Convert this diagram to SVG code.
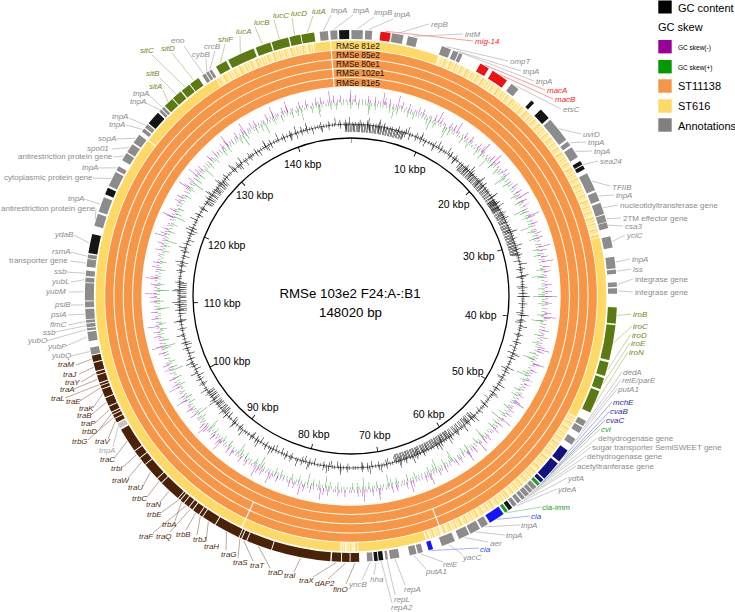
<svg xmlns="http://www.w3.org/2000/svg" width="735" height="612" viewBox="0 0 735 612">
<style>
text{font-family:"Liberation Sans",Arial,sans-serif}
.t{font-size:8px;font-style:italic}
.p{font-size:8px}
.k{font-size:10.5px;fill:#000}
.cg{fill:#8c8c8c}.co{fill:#6f8c1d}.cb{fill:#552e12}.cr{fill:#ff1a1a}.cn{fill:#2b2b8f}.cu{fill:#2244ff}.cv{fill:#22a022}.cl{fill:#a8a8a8}
.f{fill:none;stroke-width:9}
.fg{stroke:#8c8c8c}.fk{stroke:#151515}.fo{stroke:#5c7a12}.fb{stroke:#4a2208}.fr{stroke:#ee1111}.fn{stroke:#121280}.fu{stroke:#1414ff}.fv{stroke:#22a022}.fl{stroke:#c4c4c4}
.ys{fill:none;stroke:#ffd966;stroke-width:8.5}
.wg{stroke:#fff;stroke-width:1.1}
#conn line{stroke-width:.6}
.lg{stroke:#a6a6a6}.lo{stroke:#a3b36a}.lb{stroke:#8b6b55}.lr{stroke:#ff5555}.ln{stroke:#6b6bb5}.lu{stroke:#6680ff}.lv{stroke:#6cc06c}
.lt{font-size:11px;fill:#000}
.ls{font-size:6.5px;fill:#000}
.rl{font-size:8.3px;fill:#111}
</style>
<defs>
<path id="F" d="M351,34.5A261.5,261.5 0 1 1 351,557.5A261.5,261.5 0 1 1 351,34.5" pathLength="360"/>
<path id="Y" d="M351,45A251,251 0 1 1 351,547A251,251 0 1 1 351,45" pathLength="360"/>
<path id="a20" d="M321.83,130.55A168,168 0 0 1 380.17,130.55"/>
<path id="a10" d="M336.36,128.64A168,168 0 0 1 365.64,128.64"/>
</defs>
<rect width="735" height="612" fill="#fff"/>

<g id="rings" fill="none">
<circle cx="351" cy="296" r="241.7" stroke="#f79646" stroke-width="8.3"/>
<circle cx="351" cy="296" r="232.4" stroke="#f79646" stroke-width="8.3"/>
<circle cx="351" cy="296" r="223.1" stroke="#f79646" stroke-width="8.3"/>
<circle cx="351" cy="296" r="213.8" stroke="#f79646" stroke-width="8.3"/>
<circle cx="351" cy="296" r="251" stroke="#fff1c2" stroke-width="8.5"/>
<circle cx="351" cy="296" r="251" stroke="#ffd966" stroke-width="8.5" stroke-dasharray="1.3 1.5 0.8 2.2 1.6 0.9 0.7 2.8 2.1 1.2 0.9 1.9"/>
<use href="#Y" class="ys" stroke-dasharray="8 360" stroke-dashoffset="-352"/>
<use href="#Y" class="ys" stroke-dasharray="20 360" stroke-dashoffset="0"/>
<use href="#Y" class="ys" stroke-dasharray="41 360" stroke-dashoffset="-77"/>
<use href="#Y" class="ys" stroke-dasharray="15.3 360" stroke-dashoffset="-163"/>
<use href="#Y" class="ys" stroke-dasharray="145.5 360" stroke-dashoffset="-182.5"/>
<line class="wg" x1="351" y1="40" x2="351" y2="87" transform="rotate(355.4 351 296)"/>
<line class="wg" x1="351" y1="40" x2="351" y2="50" transform="rotate(20.3 351 296)"/>
<line class="wg" x1="351" y1="40" x2="351" y2="68" transform="rotate(159 351 296)"/>
<line class="wg" x1="351" y1="40" x2="351" y2="68" transform="rotate(205.3 351 296)"/>
<line class="wg" x1="351" y1="40" x2="351" y2="50" transform="rotate(307.5 351 296)"/>
<line class="wg" x1="351" y1="40" x2="351" y2="50" stroke-width="1.6" transform="rotate(179.3 351 296)"/>
<line class="wg" x1="351" y1="40" x2="351" y2="50" stroke-width="1.6" transform="rotate(181.3 351 296)"/>
<line class="wg" x1="351" y1="40" x2="351" y2="50" transform="rotate(162.8 351 296)"/>
<text class="rl" x="336" y="48.5">RMSe 81e2</text>
<text class="rl" x="336" y="57.8">RMSe 85e2</text>
<text class="rl" x="336" y="67.1">RMSe 80e1</text>
<text class="rl" x="336" y="76.4">RMSe 102e1</text>
<text class="rl" x="336" y="85.7">RMSe 81e5</text>
</g>

<g id="gcskew" fill="none" stroke-opacity="0.85">
<circle cx="351" cy="296" r="195.5" stroke="#a326b0" stroke-width="3" stroke-dasharray="0.5 2.2 0.5 3.1 0.5 1.4 0.5 4.0 0.5 2.6"/>
<circle cx="351" cy="296" r="197.5" stroke="#a326b0" stroke-width="7" stroke-dasharray="0.5 6.5 0.5 9.8 0.5 4.1 0.5 12.7"/>
<circle cx="351" cy="296" r="200" stroke="#a326b0" stroke-width="12" stroke-dasharray="0.5 21 0.5 33 0.5 15 0.5 44"/>
<circle cx="351" cy="296" r="192.5" stroke="#2ca02c" stroke-width="3" stroke-dasharray="0.5 2.6 0.5 1.7 0.5 3.5 0.5 2.1 0.5 2.9"/>
<circle cx="351" cy="296" r="190.5" stroke="#2ca02c" stroke-width="7" stroke-dasharray="0.5 7.3 0.5 10.6 0.5 5.2 0.5 13.9"/>
<circle cx="351" cy="296" r="188" stroke="#2ca02c" stroke-width="12" stroke-dasharray="0.5 24 0.5 37 0.5 17 0.5 49"/>
</g>

<g id="gccontent" fill="none" stroke="#111">
<circle cx="351" cy="296" r="172" stroke-width="0.6"/>
<circle cx="351" cy="296" r="172" stroke-width="4" stroke-dasharray="0.5 2.3 0.5 1.6 0.5 3.4 0.5 2.0 0.5 2.8"/>
<circle cx="351" cy="296" r="172" stroke-width="9" stroke-dasharray="0.5 7 0.5 11 0.5 5 0.5 14"/>
<circle cx="351" cy="296" r="169" stroke-width="6" stroke-dasharray="0.5 16 0.5 9 0.5 24 0.5 6"/>
<circle cx="351" cy="296" r="175.5" stroke-width="7" stroke-dasharray="0.5 19 0.5 11 0.5 29 0.5 14"/>
<use href="#a20" transform="rotate(8 351 296)" stroke-width="8" stroke-dasharray="0.5 0.6 0.5 1.0 0.5 0.5 0.5 1.3"/>
<use href="#a20" transform="rotate(50 351 296)" stroke-width="8" stroke-dasharray="0.5 0.6 0.5 1.0 0.5 0.5 0.5 1.3"/>
<use href="#a20" transform="rotate(66 351 296)" stroke-width="8" stroke-dasharray="0.5 0.6 0.5 1.0 0.5 0.5 0.5 1.3"/>
<use href="#a20" transform="rotate(155 351 296)" stroke-width="8" stroke-dasharray="0.5 0.6 0.5 1.0 0.5 0.5 0.5 1.3"/>
<use href="#a10" transform="rotate(140 351 296)" stroke-width="7" stroke-dasharray="0.5 1.2 0.5 2"/>
<use href="#a10" transform="rotate(270 351 296)" stroke-width="7" stroke-dasharray="0.5 1.2 0.5 2"/>
<use href="#a10" transform="rotate(308 351 296)" stroke-width="7" stroke-dasharray="0.5 1.2 0.5 2"/>
<use href="#a10" transform="rotate(232 351 296)" stroke-width="7" stroke-dasharray="0.5 1.2 0.5 2"/>
</g>

<g id="axis" fill="none" stroke="#000">
<circle cx="351" cy="296" r="158" stroke-width="1.3"/>
<path d="M351,140.5A155.5,155.5 0 1 1 351,451.5A155.5,155.5 0 1 1 351,140.5" pathLength="148.02" stroke-width="5" stroke-dasharray="0.12 9.88" stroke-dashoffset="0.06"/>
</g>
<g id="scale">
<text class="k" x="394" y="173">10 kbp</text>
<text class="k" x="438" y="208">20 kbp</text>
<text class="k" x="463" y="260">30 kbp</text>
<text class="k" x="465" y="319">40 kbp</text>
<text class="k" x="452" y="375">50 kbp</text>
<text class="k" x="413" y="418">60 kbp</text>
<text class="k" x="359" y="439">70 kbp</text>
<text class="k" x="298" y="438">80 kbp</text>
<text class="k" x="247" y="411">90 kbp</text>
<text class="k" x="213" y="365">100 kbp</text>
<text class="k" x="204" y="307">110 kbp</text>
<text class="k" x="208" y="249">120 kbp</text>
<text class="k" x="236" y="199">130 kbp</text>
<text class="k" x="284" y="168">140 kbp</text>
</g>
<g id="title" text-anchor="middle" font-size="13.3">
<text x="350" y="298">RMSe 103e2 F24:A-:B1</text>
<text x="350.5" y="317">148020 bp</text>
</g>

<g id="conn">
<line class="lo" x1="313" y1="16" x2="307.4" y2="32.6"/>
<line class="lo" x1="292" y1="18" x2="294.6" y2="35"/>
<line class="lo" x1="274" y1="20" x2="279.4" y2="38.8"/>
<line class="lo" x1="255" y1="27" x2="262.3" y2="44.2"/>
<line class="lo" x1="240" y1="36" x2="240.3" y2="53"/>
<line class="lo" x1="225" y1="44" x2="220.5" y2="63"/>
<line class="lg" x1="215" y1="51" x2="209.9" y2="69.3"/>
<line class="lg" x1="206" y1="59" x2="206.8" y2="71.3"/>
<line class="lg" x1="184" y1="46" x2="203.2" y2="73.6"/>
<line class="lo" x1="172" y1="53" x2="193.7" y2="80.3"/>
<line class="lo" x1="152" y1="55" x2="185" y2="86.9"/>
<line class="lo" x1="160" y1="78" x2="176.2" y2="94.2"/>
<line class="lo" x1="163" y1="90" x2="167.9" y2="101.7"/>
<line class="lg" x1="149" y1="95" x2="162.2" y2="107.2"/>
<line class="lg" x1="146" y1="103" x2="159.6" y2="109.8"/>
<line class="lg" x1="129" y1="118" x2="145.7" y2="125.3"/>
<line class="lg" x1="126" y1="125" x2="142.3" y2="129.4"/>
<line class="lg" x1="116" y1="139" x2="135.5" y2="138.3"/>
<line class="lg" x1="112" y1="149" x2="129.1" y2="147.5"/>
<line class="lg" x1="113" y1="157" x2="123.6" y2="156.1"/>
<line class="lg" x1="98" y1="168" x2="116.8" y2="167.8"/>
<line class="lg" x1="93" y1="178" x2="111.2" y2="178.5"/>
<line class="lg" x1="84" y1="199" x2="100.3" y2="204.2"/>
<line class="lg" x1="96" y1="209" x2="95.1" y2="219.7"/>
<line class="lg" x1="74" y1="235" x2="89.3" y2="243.2"/>
<line class="lg" x1="70" y1="252" x2="87" y2="256.1"/>
<line class="lg" x1="70" y1="261" x2="86.1" y2="263"/>
<line class="lg" x1="66" y1="272" x2="85" y2="273.2"/>
<line class="lg" x1="71" y1="282" x2="84.5" y2="279.7"/>
<line class="lg" x1="69" y1="292" x2="84" y2="291.8"/>
<line class="lg" x1="71" y1="305" x2="84.1" y2="304.9"/>
<line class="lg" x1="68" y1="315" x2="84.6" y2="314.2"/>
<line class="lg" x1="68" y1="325" x2="85.2" y2="321.6"/>
<line class="lg" x1="55" y1="332" x2="85.7" y2="325.8"/>
<line class="lg" x1="46" y1="341" x2="86.1" y2="329.7"/>
<line class="lg" x1="66" y1="346" x2="87.1" y2="336.9"/>
<line class="lg" x1="71" y1="356" x2="89.8" y2="351.5"/>
<line class="lb" x1="76" y1="365" x2="91.6" y2="359.2"/>
<line class="lb" x1="79" y1="374" x2="93.7" y2="367.3"/>
<line class="lb" x1="81" y1="382" x2="95.5" y2="373.6"/>
<line class="lb" x1="74" y1="389" x2="97.3" y2="379.4"/>
<line class="lb" x1="65" y1="398" x2="99.2" y2="384.7"/>
<line class="lb" x1="80" y1="401" x2="100.3" y2="387.8"/>
<line class="lb" x1="93" y1="408" x2="102.6" y2="393.9"/>
<line class="lb" x1="91" y1="415" x2="106.1" y2="402.5"/>
<line class="lb" x1="96" y1="422" x2="109.4" y2="409.7"/>
<line class="lb" x1="98" y1="431" x2="111.4" y2="413.9"/>
<line class="lb" x1="88" y1="440" x2="113.3" y2="417.6"/>
<line class="lb" x1="108" y1="439" x2="115.3" y2="421.4"/>
<line class="lg" x1="113" y1="447" x2="118.2" y2="426.7"/>
<line class="lb" x1="115" y1="457" x2="127.1" y2="441.4"/>
<line class="lb" x1="123" y1="467" x2="136.4" y2="454.8"/>
<line class="lb" x1="128" y1="478" x2="141.8" y2="461.8"/>
<line class="lb" x1="143" y1="486" x2="150.4" y2="472.2"/>
<line class="lb" x1="147" y1="497" x2="159" y2="481.5"/>
<line class="lb" x1="160" y1="502" x2="168.9" y2="491.3"/>
<line class="lb" x1="162" y1="512" x2="178.7" y2="499.9"/>
<line class="lb" x1="175" y1="521" x2="181.5" y2="502.3"/>
<line class="lb" x1="153" y1="533" x2="185.9" y2="505.8"/>
<line class="lb" x1="170" y1="532" x2="190.3" y2="509.2"/>
<line class="lb" x1="186" y1="530" x2="195.6" y2="513.1"/>
<line class="lb" x1="197" y1="535" x2="200.3" y2="516.4"/>
<line class="lb" x1="206" y1="542" x2="208.3" y2="521.7"/>
<line class="lb" x1="226" y1="550" x2="226.5" y2="532.2"/>
<line class="lb" x1="238" y1="558" x2="239.9" y2="538.8"/>
<line class="lb" x1="253" y1="561" x2="243.7" y2="540.5"/>
<line class="lb" x1="270" y1="568" x2="258.6" y2="546.5"/>
<line class="lb" x1="294" y1="572" x2="300.5" y2="558.2"/>
<line class="lb" x1="313" y1="577" x2="336.1" y2="562.6"/>
<line class="lb" x1="328" y1="579" x2="345.6" y2="563"/>
<line class="lb" x1="346" y1="584" x2="355" y2="563"/>
<line class="lg" x1="362" y1="580" x2="370.1" y2="562.3"/>
<line class="lg" x1="374" y1="575" x2="376.1" y2="561.8"/>
<line class="lg" x1="405" y1="585" x2="395.1" y2="559.3"/>
<line class="lg" x1="395" y1="595" x2="387.2" y2="560.5"/>
<line class="lg" x1="392" y1="603" x2="381.2" y2="561.3"/>
<line class="lg" x1="426" y1="569" x2="413.8" y2="555.5"/>
<line class="lg" x1="443" y1="562" x2="420.6" y2="553.8"/>
<line class="lg" x1="463" y1="555" x2="448.9" y2="544.4"/>
<line class="lu" x1="479" y1="548" x2="431.3" y2="550.6"/>
<line class="lg" x1="488" y1="542" x2="464.7" y2="537.6"/>
<line class="lg" x1="505" y1="535" x2="475.7" y2="532"/>
<line class="lg" x1="520" y1="525" x2="485.3" y2="526.8"/>
<line class="lu" x1="530" y1="516" x2="497.4" y2="519.3"/>
<line class="lv" x1="541" y1="507" x2="507" y2="512.7"/>
<line class="lg" x1="557" y1="489" x2="515.7" y2="506.1"/>
<line class="lg" x1="567" y1="478" x2="519.9" y2="502.8"/>
<line class="lg" x1="576" y1="466" x2="524" y2="499.3"/>
<line class="lg" x1="586" y1="456" x2="527.9" y2="496"/>
<line class="lg" x1="591" y1="447" x2="531.7" y2="492.5"/>
<line class="lg" x1="597" y1="438" x2="535.5" y2="489"/>
<line class="lv" x1="600" y1="429" x2="539.3" y2="485.3"/>
<line class="ln" x1="605" y1="420" x2="542.6" y2="482"/>
<line class="ln" x1="609" y1="412" x2="551" y2="472.9"/>
<line class="ln" x1="612" y1="402" x2="564.2" y2="456.7"/>
<line class="lg" x1="617" y1="389" x2="574.4" y2="442.2"/>
<line class="lg" x1="621" y1="380" x2="581.5" y2="430.7"/>
<line class="lg" x1="622" y1="372" x2="585.4" y2="423.8"/>
<line class="lo" x1="628" y1="352" x2="595.9" y2="402.5"/>
<line class="lo" x1="630" y1="343" x2="603.2" y2="383.8"/>
<line class="lo" x1="631" y1="334" x2="607.7" y2="369.6"/>
<line class="lo" x1="632" y1="326" x2="613.9" y2="342.8"/>
<line class="lo" x1="631" y1="314" x2="617.3" y2="315.5"/>
<line class="lg" x1="633" y1="292" x2="618" y2="290.9"/>
<line class="lg" x1="633" y1="279" x2="617.7" y2="284.4"/>
<line class="lg" x1="631" y1="269" x2="616.9" y2="271.3"/>
<line class="lg" x1="630" y1="259" x2="615.8" y2="262.1"/>
<line class="lg" x1="625" y1="235" x2="612.4" y2="241.4"/>
<line class="lg" x1="623" y1="226" x2="608.4" y2="225.1"/>
<line class="lg" x1="621" y1="218" x2="606.6" y2="218.8"/>
<line class="lg" x1="618" y1="205" x2="603" y2="207.8"/>
<line class="lg" x1="614" y1="195" x2="598.6" y2="196"/>
<line class="lg" x1="610" y1="186" x2="592" y2="181.1"/>
<line class="lg" x1="598" y1="161" x2="583.4" y2="164.5"/>
<line class="lg" x1="592" y1="151" x2="575.4" y2="151.4"/>
<line class="lg" x1="586" y1="142" x2="569.7" y2="142.8"/>
<line class="lg" x1="581" y1="134" x2="559.1" y2="128.7"/>
<line class="lg" x1="561" y1="109" x2="515.4" y2="85.6"/>
<line class="lr" x1="553" y1="99" x2="500.7" y2="74.9"/>
<line class="lr" x1="545" y1="90" x2="484.9" y2="65"/>
<line class="lg" x1="534" y1="81" x2="460.4" y2="52.5"/>
<line class="lg" x1="521" y1="71" x2="456.6" y2="50.8"/>
<line class="lg" x1="508" y1="61" x2="446.7" y2="46.7"/>
<line class="lr" x1="473" y1="41" x2="385.8" y2="31.3"/>
<line class="lg" x1="463" y1="34" x2="413.1" y2="36.3"/>
<line class="lg" x1="429" y1="24" x2="398" y2="33.2"/>
<line class="lg" x1="393" y1="19" x2="368.9" y2="29.6"/>
<line class="lg" x1="374" y1="17" x2="357.1" y2="29"/>
<line class="lg" x1="353" y1="15" x2="333.5" y2="29.6"/>
<line class="lg" x1="331" y1="15" x2="323.6" y2="30.4"/>
</g>

<g id="features">
<g id="n-tnpA-a"><use href="#F" class="f fg" stroke-dasharray="1.8 360" stroke-dashoffset="-353.2"/><text class="t cg" x="331" y="13">tnpA</text></g>
<g id="n-tnpA-b"><use href="#F" class="f fg" stroke-dasharray="1.5 360" stroke-dashoffset="-355.5"/><text class="t cg" x="353" y="13">tnpA</text></g>
<g id="n-impB"><use href="#F" class="f fg" stroke-dasharray="2.5 360" stroke-dashoffset="-0.1"/><text class="t cg" x="374" y="15">impB</text></g>
<g id="n-tnpA-c"><use href="#F" class="f fg" stroke-dasharray="1.5 360" stroke-dashoffset="-3.1"/><text class="t cg" x="394" y="17">tnpA</text></g>
<g id="n-mig14"><use href="#F" class="f fr" stroke-dasharray="2.2 360" stroke-dashoffset="-6.4"/><text class="t cr" x="475" y="44">mig-14</text></g>
<g id="n-repB"><use href="#F" class="f fg" stroke-dasharray="2.5 360" stroke-dashoffset="-8.9"/><text class="t cg" x="431" y="27">repB</text></g>
<g id="n-intM"><use href="#F" class="f fg" stroke-dasharray="2.1 360" stroke-dashoffset="-12.4"/><text class="t cg" x="465" y="37">intM</text></g>
<g id="n-ompT"><use href="#F" class="f fg" stroke-dasharray="2.1 360" stroke-dashoffset="-20"/><text class="t cg" x="510" y="64">ompT</text></g>
<g id="n-tnpA-d"><use href="#F" class="f fg" stroke-dasharray="1.2 360" stroke-dashoffset="-22.6"/><text class="t cg" x="523" y="74">tnpA</text></g>
<g id="n-tnpA-e"><use href="#F" class="f fg" stroke-dasharray="0.8 360" stroke-dashoffset="-24"/><text class="t cg" x="536" y="84">tnpA</text></g>
<g id="n-macA"><use href="#F" class="f fr" stroke-dasharray="2.1 360" stroke-dashoffset="-29.1"/><text class="t cr" x="547" y="93">macA</text></g>
<g id="n-macB"><use href="#F" class="f fr" stroke-dasharray="3.7 360" stroke-dashoffset="-32.2"/><text class="t cr" x="555" y="102">macB</text></g>
<g id="n-etsC"><use href="#F" class="f fg" stroke-dasharray="1.9 360" stroke-dashoffset="-37.1"/><text class="t cg" x="563" y="112">etsC</text></g>
<g id="n-uvrD"><use href="#F" class="f fg" stroke-dasharray="5.5 360" stroke-dashoffset="-48.5"/><text class="t cg" x="583" y="137">uvrD</text></g>
<g id="n-tnpA-f"><use href="#F" class="f fg" stroke-dasharray="1 360" stroke-dashoffset="-54.5"/><text class="t cg" x="588" y="145">tnpA</text></g>
<g id="n-tnpA-g"><use href="#F" class="f fg" stroke-dasharray="2.5 360" stroke-dashoffset="-56"/><text class="t cg" x="594" y="154">tnpA</text></g>
<g id="n-sea24"><use href="#F" class="f fk" stroke-dasharray="0.9 360" stroke-dashoffset="-59.5"/><use href="#F" class="f fk" stroke-dasharray="0.9 360" stroke-dashoffset="-60.6"/><text class="t cg" x="600" y="164">sea24</text></g>
<g id="n-TFIIB"><use href="#F" class="f fg" stroke-dasharray="4 360" stroke-dashoffset="-62.5"/><text class="t cg" x="612" y="190">TFIIB</text></g>
<g id="n-tnpA-h"><use href="#F" class="f fg" stroke-dasharray="2 360" stroke-dashoffset="-67"/><text class="t cg" x="616" y="198">tnpA</text></g>
<g id="n-nucl"><use href="#F" class="f fg" stroke-dasharray="2.5 360" stroke-dashoffset="-69.5"/><text class="p cg" x="620" y="208">nucleotidyltransferase gene</text></g>
<g id="n-2TM"><use href="#F" class="f fg" stroke-dasharray="1.6 360" stroke-dashoffset="-72.2"/><text class="p cg" x="623" y="221">2TM effector gene</text></g>
<g id="n-csa3"><use href="#F" class="f fg" stroke-dasharray="1.3 360" stroke-dashoffset="-73.9"/><text class="t cg" x="625" y="229">csa3</text></g>
<g id="n-yciC"><use href="#F" class="f fg" stroke-dasharray="2.5 360" stroke-dashoffset="-77"/><text class="t cg" x="627" y="238">yciC</text></g>
<g id="n-tnpA-i"><use href="#F" class="f fg" stroke-dasharray="2.5 360" stroke-dashoffset="-81.5"/><text class="t cg" x="632" y="262">tnpA</text></g>
<g id="n-iss"><use href="#F" class="f fg" stroke-dasharray="0.9 360" stroke-dashoffset="-84.3"/><text class="t cg" x="633" y="272">iss</text></g>
<g id="n-int1"><use href="#F" class="f fg" stroke-dasharray="1 360" stroke-dashoffset="-87"/><text class="p cg" x="635" y="282">integrase gene</text></g>
<g id="n-int2"><use href="#F" class="f fg" stroke-dasharray="1.2 360" stroke-dashoffset="-88.3"/><text class="p cg" x="635" y="295">integrase gene</text></g>
<g id="n-iroB"><use href="#F" class="f fo" stroke-dasharray="3.5 360" stroke-dashoffset="-92.5"/><text class="t co" x="633" y="317">iroB</text></g>
<g id="n-iroC"><use href="#F" class="f fo" stroke-dasharray="7.7 360" stroke-dashoffset="-96.3"/><text class="t co" x="633" y="329">iroC</text></g>
<g id="n-iroD"><use href="#F" class="f fo" stroke-dasharray="3 360" stroke-dashoffset="-104.5"/><text class="t co" x="632" y="337.5">iroD</text></g>
<g id="n-iroE"><use href="#F" class="f fo" stroke-dasharray="2.5 360" stroke-dashoffset="-108"/><text class="t co" x="631" y="346">iroE</text></g>
<g id="n-iroN"><use href="#F" class="f fo" stroke-dasharray="5 360" stroke-dashoffset="-111"/><text class="t co" x="629" y="355">iroN</text></g>
<g id="n-dedA"><use href="#F" class="f fg" stroke-dasharray="1.3 360" stroke-dashoffset="-118"/><text class="t cg" x="623" y="375">dedA</text></g>
<g id="n-relEparE"><use href="#F" class="f fg" stroke-dasharray="1.4 360" stroke-dashoffset="-119.6"/><text class="t cg" x="622" y="383">relE/parE</text></g>
<g id="n-putA1-a"><use href="#F" class="f fg" stroke-dasharray="1.5 360" stroke-dashoffset="-122.5"/><text class="t cg" x="618" y="392">putA1</text></g>
<g id="n-mchE"><use href="#F" class="f fn" stroke-dasharray="3 360" stroke-dashoffset="-125.5"/><text class="t cn" x="613" y="405">mchE</text></g>
<g id="n-cvaB"><use href="#F" class="f fn" stroke-dasharray="4.4 360" stroke-dashoffset="-129"/><text class="t cn" x="610" y="414">cvaB</text></g>
<g id="n-cvaC"><use href="#F" class="f fn" stroke-dasharray="0.8 360" stroke-dashoffset="-133.7"/><text class="t cn" x="606" y="422.5">cvaC</text></g>
<g id="n-cvi"><use href="#F" class="f fv" stroke-dasharray="0.7 360" stroke-dashoffset="-134.8"/><text class="t cv" x="601" y="431.5">cvi</text></g>
<g id="n-dh1"><use href="#F" class="f fg" stroke-dasharray="1 360" stroke-dashoffset="-135.8"/><text class="p cg" x="598" y="441">dehydrogenase gene</text></g>
<g id="n-semi"><use href="#F" class="f fg" stroke-dasharray="0.8 360" stroke-dashoffset="-137"/><text class="p cg" x="592" y="450">sugar transporter SemiSWEET gene</text></g>
<g id="n-dh2"><use href="#F" class="f fg" stroke-dasharray="1 360" stroke-dashoffset="-138"/><text class="p cg" x="587" y="459">dehydrogenase gene</text></g>
<g id="n-acet"><use href="#F" class="f fg" stroke-dasharray="0.8 360" stroke-dashoffset="-139.2"/><text class="p cg" x="577" y="469">acetyltranferase gene</text></g>
<g id="n-ydfA"><use href="#F" class="f fg" stroke-dasharray="0.9 360" stroke-dashoffset="-140.3"/><text class="t cg" x="568" y="481">ydfA</text></g>
<g id="n-ydeA"><use href="#F" class="f fg" stroke-dasharray="0.9 360" stroke-dashoffset="-141.5"/><text class="t cg" x="558" y="492">ydeA</text></g>
<g id="n-ciaimm"><use href="#F" class="f fv" stroke-dasharray="0.7 360" stroke-dashoffset="-143.9"/><text class="p cv" x="542" y="510">cia-imm</text></g>
<g id="n-cia-a"><use href="#F" class="f fu" stroke-dasharray="3.5 360" stroke-dashoffset="-145"/><text class="t cu" x="531" y="519">cia</text></g>
<g id="n-tnpA-j"><use href="#F" class="f fg" stroke-dasharray="1.6 360" stroke-dashoffset="-149"/><text class="t cg" x="521" y="528">tnpA</text></g>
<g id="n-tnpA-k"><use href="#F" class="f fg" stroke-dasharray="2.3 360" stroke-dashoffset="-151"/><text class="t cg" x="506" y="538">tnpA</text></g>
<g id="n-aer"><use href="#F" class="f fg" stroke-dasharray="2.4 360" stroke-dashoffset="-153.6"/><text class="t cg" x="490" y="545.5">aer</text></g>
<g id="n-yacC"><use href="#F" class="f fg" stroke-dasharray="3 360" stroke-dashoffset="-157"/><text class="t cg" x="463" y="559.5">yacC</text></g>
<g id="n-cia-b"><use href="#F" class="f fu" stroke-dasharray="1 360" stroke-dashoffset="-162"/><text class="t cu" x="480" y="551.5">cia</text></g>
<g id="n-relE"><use href="#F" class="f fg" stroke-dasharray="1.1 360" stroke-dashoffset="-164.3"/><text class="t cg" x="443" y="567">relE</text></g>
<g id="n-putA1-b"><use href="#F" class="f fg" stroke-dasharray="1.5 360" stroke-dashoffset="-165.7"/><text class="t cg" x="426" y="574">putA1</text></g>
<g id="n-repA"><use href="#F" class="f fg" stroke-dasharray="2 360" stroke-dashoffset="-169.5"/><text class="t cg" x="404" y="592">repA</text></g>
<g id="n-repL"><use href="#F" class="f fg" stroke-dasharray="0.5 360" stroke-dashoffset="-172"/><text class="t cg" x="394" y="602">repL</text></g>
<g id="n-repA2"><use href="#F" class="f fk" stroke-dasharray="1 360" stroke-dashoffset="-173"/><text class="t cg" x="391" y="610">repA2</text></g>
<g id="n-hha"><use href="#F" class="f fk" stroke-dasharray="0.8 360" stroke-dashoffset="-174.2"/><text class="t cg" x="370" y="582">hha</text></g>
<g id="n-yncB"><use href="#F" class="f fg" stroke-dasharray="1.2 360" stroke-dashoffset="-175.3"/><text class="t cg" x="349" y="587">yncB</text></g>
<g id="n-finO"><use href="#F" class="f fb" stroke-dasharray="1.9 360" stroke-dashoffset="-178.2"/><text class="t cb" x="333" y="592">finO</text></g>
<g id="n-dAP2"><use href="#F" class="f fb" stroke-dasharray="1.7 360" stroke-dashoffset="-180.3"/><text class="t cb" x="315" y="586">dAP2</text></g>
<g id="n-traX"><use href="#F" class="f fb" stroke-dasharray="2 360" stroke-dashoffset="-182.2"/><text class="t cb" x="299" y="583">traX</text></g>
<g id="n-traI"><use href="#F" class="f fb" stroke-dasharray="12.8 360" stroke-dashoffset="-184.5"/><text class="t cb" x="284" y="578">traI</text></g>
<g id="n-traD"><use href="#F" class="f fb" stroke-dasharray="5.5 360" stroke-dashoffset="-197.5"/><text class="t cb" x="268" y="575">traD</text></g>
<g id="n-traT"><use href="#F" class="f fb" stroke-dasharray="1 360" stroke-dashoffset="-203.2"/><text class="t cb" x="250" y="568">traT</text></g>
<g id="n-traS"><use href="#F" class="f fb" stroke-dasharray="0.4 360" stroke-dashoffset="-204.4"/><text class="t cb" x="233" y="565">traS</text></g>
<g id="n-traG"><use href="#F" class="f fb" stroke-dasharray="5.6 360" stroke-dashoffset="-205"/><text class="t cb" x="221" y="557">traG</text></g>
<g id="n-traH"><use href="#F" class="f fb" stroke-dasharray="3 360" stroke-dashoffset="-210.8"/><text class="t cb" x="204" y="549">traH</text></g>
<g id="n-trbJ"><use href="#F" class="f fb" stroke-dasharray="0.7 360" stroke-dashoffset="-214"/><text class="t cb" x="193" y="542">trbJ</text></g>
<g id="n-trbB"><use href="#F" class="f fb" stroke-dasharray="1.5 360" stroke-dashoffset="-214.9"/><text class="t cb" x="176" y="537">trbB</text></g>
<g id="n-traQ"><use href="#F" class="f fb" stroke-dasharray="0.8 360" stroke-dashoffset="-216.6"/><text class="t cb" x="156" y="539">traQ</text></g>
<g id="n-traF"><use href="#F" class="f fb" stroke-dasharray="1.2 360" stroke-dashoffset="-217.6"/><text class="t cb" x="139" y="539">traF</text></g>
<g id="n-trbA"><use href="#F" class="f fb" stroke-dasharray="0.8 360" stroke-dashoffset="-219"/><text class="t cb" x="162" y="527">trbA</text></g>
<g id="n-trbE"><use href="#F" class="f fb" stroke-dasharray="0.4 360" stroke-dashoffset="-220"/><text class="t cb" x="147" y="517">trbE</text></g>
<g id="n-traN"><use href="#F" class="f fb" stroke-dasharray="4.7 360" stroke-dashoffset="-220.6"/><text class="t cb" x="146" y="507">traN</text></g>
<g id="n-trbC"><use href="#F" class="f fb" stroke-dasharray="1.1 360" stroke-dashoffset="-225.5"/><text class="t cb" x="132" y="500.5">trbC</text></g>
<g id="n-traU"><use href="#F" class="f fb" stroke-dasharray="3.8 360" stroke-dashoffset="-226.8"/><text class="t cb" x="128" y="490">traU</text></g>
<g id="n-traW"><use href="#F" class="f fb" stroke-dasharray="1.6 360" stroke-dashoffset="-230.8"/><text class="t cb" x="112" y="483">traW</text></g>
<g id="n-trbI"><use href="#F" class="f fb" stroke-dasharray="1.7 360" stroke-dashoffset="-232.6"/><text class="t cb" x="111" y="471">trbI</text></g>
<g id="n-traC"><use href="#F" class="f fb" stroke-dasharray="5.3 360" stroke-dashoffset="-234.5"/><text class="t cb" x="100" y="462">traC</text></g>
<g id="n-tnpA-l"><use href="#F" class="f fl" stroke-dasharray="1.1 360" stroke-dashoffset="-240.2"/><text class="t cl" x="99" y="452.5">tnpA</text></g>
<g id="n-traV"><use href="#F" class="f fb" stroke-dasharray="0.9 360" stroke-dashoffset="-241.6"/><text class="t cb" x="95" y="444">traV</text></g>
<g id="n-trbG"><use href="#F" class="f fb" stroke-dasharray="0.7 360" stroke-dashoffset="-242.7"/><text class="t cb" x="72" y="444">trbG</text></g>
<g id="n-trbD"><use href="#F" class="f fb" stroke-dasharray="0.4 360" stroke-dashoffset="-243.6"/><text class="t cb" x="82" y="433.5">trbD</text></g>
<g id="n-traP"><use href="#F" class="f fb" stroke-dasharray="1.2 360" stroke-dashoffset="-244.2"/><text class="t cb" x="81" y="425.5">traP</text></g>
<g id="n-traB"><use href="#F" class="f fb" stroke-dasharray="1.8 360" stroke-dashoffset="-245.6"/><text class="t cb" x="77" y="418">traB</text></g>
<g id="n-traK"><use href="#F" class="f fb" stroke-dasharray="1.8 360" stroke-dashoffset="-247.6"/><text class="t cb" x="79" y="410.5">traK</text></g>
<g id="n-traE"><use href="#F" class="f fb" stroke-dasharray="0.6 360" stroke-dashoffset="-249.6"/><text class="t cb" x="66" y="404">traE</text></g>
<g id="n-traL"><use href="#F" class="f fb" stroke-dasharray="0.4 360" stroke-dashoffset="-250.4"/><text class="t cb" x="51" y="401">traL</text></g>
<g id="n-traA"><use href="#F" class="f fb" stroke-dasharray="1.6 360" stroke-dashoffset="-251"/><text class="t cb" x="60" y="392">traA</text></g>
<g id="n-traY"><use href="#F" class="f fb" stroke-dasharray="0.6 360" stroke-dashoffset="-252.8"/><text class="t cb" x="65" y="384.5">traY</text></g>
<g id="n-traJ"><use href="#F" class="f fb" stroke-dasharray="1.8 360" stroke-dashoffset="-253.6"/><text class="t cb" x="63" y="376.5">traJ</text></g>
<g id="n-traM"><use href="#F" class="f fb" stroke-dasharray="1.4 360" stroke-dashoffset="-255.6"/><text class="t cb" x="58" y="367">traM</text></g>
<g id="n-yubQ"><use href="#F" class="f fg" stroke-dasharray="1.6 360" stroke-dashoffset="-257.2"/><text class="t cg" x="52" y="358">yubQ</text></g>
<g id="n-yubP"><use href="#F" class="f fg" stroke-dasharray="2 360" stroke-dashoffset="-260.2"/><text class="t cg" x="48" y="348.5">yubP</text></g>
<g id="n-yubO"><use href="#F" class="f fg" stroke-dasharray="0.5 360" stroke-dashoffset="-262.5"/><text class="t cg" x="28" y="343">yubO</text></g>
<g id="n-ssb-a"><use href="#F" class="f fg" stroke-dasharray="0.8 360" stroke-dashoffset="-263.2"/><text class="t cg" x="43" y="334.5">ssb</text></g>
<g id="n-flmC"><use href="#F" class="f fg" stroke-dasharray="0.6 360" stroke-dashoffset="-264.2"/><text class="t cg" x="50" y="326.5">flmC</text></g>
<g id="n-psiA"><use href="#F" class="f fg" stroke-dasharray="2.2 360" stroke-dashoffset="-265"/><text class="t cg" x="51" y="317">psiA</text></g>
<g id="n-psiB"><use href="#F" class="f fg" stroke-dasharray="1.3 360" stroke-dashoffset="-267.5"/><text class="t cg" x="55" y="307">psiB</text></g>
<g id="n-yubM"><use href="#F" class="f fg" stroke-dasharray="3.8 360" stroke-dashoffset="-269"/><text class="t cg" x="46" y="294">yubM</text></g>
<g id="n-yubL"><use href="#F" class="f fg" stroke-dasharray="1 360" stroke-dashoffset="-273"/><text class="t cg" x="52" y="284">yubL</text></g>
<g id="n-ssb-b"><use href="#F" class="f fg" stroke-dasharray="1.2 360" stroke-dashoffset="-274.3"/><text class="t cg" x="54" y="274">ssb</text></g>
<g id="n-transp"><use href="#F" class="f fg" stroke-dasharray="1.7 360" stroke-dashoffset="-276.3"/><text class="p cg" x="9" y="263">transporter gene</text></g>
<g id="n-rsmA"><use href="#F" class="f fg" stroke-dasharray="0.8 360" stroke-dashoffset="-278.2"/><text class="t cg" x="52" y="254">rsmA</text></g>
<g id="n-ydaB"><use href="#F" class="f fk" stroke-dasharray="4.2 360" stroke-dashoffset="-279.3"/><text class="t cg" x="55" y="237">ydaB</text></g>
<g id="n-antir-a"><use href="#F" class="f fg" stroke-dasharray="2.7 360" stroke-dashoffset="-285.3"/><text class="p cg" x="1" y="211">antirestriction protein gene</text></g>
<g id="n-tnpA-m"><use href="#F" class="f fg" stroke-dasharray="3.3 360" stroke-dashoffset="-288.5"/><text class="t cg" x="68" y="201">tnpA</text></g>
<g id="n-cyto"><use href="#F" class="f fg" stroke-dasharray="3.3 360" stroke-dashoffset="-294.5"/><text class="p cg" x="4" y="180">cytoplasmic protein gene</text></g>
<g id="n-tnpA-n"><use href="#F" class="f fg" stroke-dasharray="1 360" stroke-dashoffset="-298.2"/><text class="t cg" x="82" y="170">tnpA</text></g>
<g id="n-antir-b"><use href="#F" class="f fg" stroke-dasharray="1.8 360" stroke-dashoffset="-300.7"/><text class="p cg" x="18" y="159">antirestriction protein gene</text></g>
<g id="n-spo01"><use href="#F" class="f fg" stroke-dasharray="2 360" stroke-dashoffset="-302.8"/><text class="t cg" x="87" y="151">spo01</text></g>
<g id="n-sopA"><use href="#F" class="f fg" stroke-dasharray="2.1 360" stroke-dashoffset="-305.2"/><text class="t cg" x="98" y="141">sopA</text></g>
<g id="n-tnpA-o"><use href="#F" class="f fg" stroke-dasharray="0.8 360" stroke-dashoffset="-308.2"/><text class="t cg" x="109" y="126.5">tnpA</text></g>
<g id="n-tnpA-p"><use href="#F" class="f fg" stroke-dasharray="0.9 360" stroke-dashoffset="-309.3"/><text class="t cg" x="112" y="118.5">tnpA</text></g>
<g id="n-tnpA-q"><use href="#F" class="f fg" stroke-dasharray="0.6 360" stroke-dashoffset="-313.9"/><text class="t cg" x="130" y="104">tnpA</text></g>
<g id="n-tnpA-r"><use href="#F" class="f fg" stroke-dasharray="0.6 360" stroke-dashoffset="-314.7"/><text class="t cg" x="133" y="96">tnpA</text></g>
<g id="n-sitA"><use href="#F" class="f fo" stroke-dasharray="2.2 360" stroke-dashoffset="-315.6"/><text class="t co" x="149" y="89">sitA</text></g>
<g id="n-sitB"><use href="#F" class="f fo" stroke-dasharray="2.2 360" stroke-dashoffset="-318"/><text class="t co" x="146" y="76">sitB</text></g>
<g id="n-sitC"><use href="#F" class="f fo" stroke-dasharray="2.1 360" stroke-dashoffset="-320.5"/><text class="t co" x="140" y="53">sitC</text></g>
<g id="n-sitD"><use href="#F" class="f fo" stroke-dasharray="2.2 360" stroke-dashoffset="-322.8"/><text class="t co" x="161" y="51">sitD</text></g>
<g id="n-eno"><use href="#F" class="f fg" stroke-dasharray="0.8 360" stroke-dashoffset="-326"/><text class="t cg" x="171" y="43">eno</text></g>
<g id="n-cybB"><use href="#F" class="f fg" stroke-dasharray="0.6 360" stroke-dashoffset="-327"/><text class="t cg" x="192" y="57">cybB</text></g>
<g id="n-crcB"><use href="#F" class="f fg" stroke-dasharray="0.6 360" stroke-dashoffset="-327.8"/><text class="t cg" x="204" y="49">crcB</text></g>
<g id="n-shiF"><use href="#F" class="f fo" stroke-dasharray="2.5 360" stroke-dashoffset="-329.5"/><text class="t co" x="218" y="42">shiF</text></g>
<g id="n-iucA"><use href="#F" class="f fo" stroke-dasharray="6 360" stroke-dashoffset="-332.5"/><text class="t co" x="236" y="34">iucA</text></g>
<g id="n-iucB"><use href="#F" class="f fo" stroke-dasharray="3.3 360" stroke-dashoffset="-339"/><text class="t co" x="254" y="25">iucB</text></g>
<g id="n-iucC"><use href="#F" class="f fo" stroke-dasharray="3.7 360" stroke-dashoffset="-342.6"/><text class="t co" x="273" y="18">iucC</text></g>
<g id="n-iucD"><use href="#F" class="f fo" stroke-dasharray="2.4 360" stroke-dashoffset="-346.6"/><text class="t co" x="291" y="16">iucD</text></g>
<g id="n-iutA"><use href="#F" class="f fo" stroke-dasharray="2.8 360" stroke-dashoffset="-349.2"/><text class="t co" x="312" y="14">iutA</text></g>
<g id="unlabeled">
<use href="#F" class="f fk" stroke-dasharray="2.2 360" stroke-dashoffset="-357.4"/>
<use href="#F" class="f fk" stroke-dasharray="0.8 360" stroke-dashoffset="-42.7"/>
<use href="#F" class="f fk" stroke-dasharray="2.5 360" stroke-dashoffset="-45.5"/>
<use href="#F" class="f fk" stroke-dasharray="0.9 360" stroke-dashoffset="-142.7"/>
<use href="#F" class="f fk" stroke-dasharray="1.5 360" stroke-dashoffset="-292.5"/>
<use href="#F" class="f fk" stroke-dasharray="3 360" stroke-dashoffset="-310.5"/>
</g>
</g>

<g id="legend">
<rect x="658.3" y="0.5" width="13.4" height="13" fill="#000"/>
<text class="lt" x="678" y="12">GC content</text>
<text class="lt" x="658" y="31">GC skew</text>
<rect x="658.3" y="40" width="13.4" height="13.4" fill="#990099"/>
<text class="ls" x="678" y="50">GC skew(-)</text>
<rect x="658.3" y="60" width="13.4" height="13.4" fill="#009900"/>
<text class="ls" x="678" y="70">GC skew(+)</text>
<rect x="658.3" y="79.3" width="13.4" height="13.4" fill="#f79646"/>
<text class="lt" x="678" y="90">ST11138</text>
<rect x="658.3" y="99.3" width="13.4" height="13.4" fill="#ffd966"/>
<text class="lt" x="678" y="110">ST616</text>
<rect x="658.3" y="118.3" width="13.4" height="13.4" fill="#808080"/>
<text class="lt" x="678" y="130">Annotations</text>
</g>
</svg>
